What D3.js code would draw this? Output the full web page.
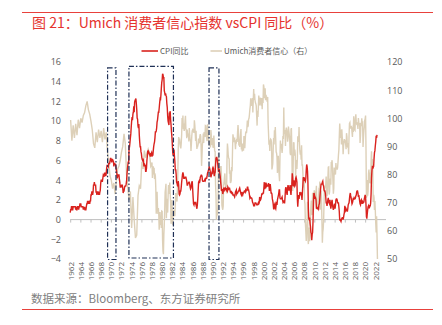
<!DOCTYPE html>
<html><head><meta charset="utf-8">
<script src="https://cdn.jsdelivr.net/npm/d3@7/dist/d3.min.js"></script>
<style>
html,body{margin:0;padding:0;background:#fff;}
svg{display:block;font-family:"Noto Sans CJK SC","Noto Sans",sans-serif;}
</style></head><body>
<svg id="c" width="442" height="325"></svg>
<script>
// ---- data ----
const titleText = "图 21：Umich 消费者信心指数 vsCPI 同比（%）";
const sourceText = "数据来源：Bloomberg、东方证券研究所";
const seriesNames = ["CPI同比", "Umich消费者信心（右）"];
const leftTicks = [-4,-2,0,2,4,6,8,10,12,14,16];
const rightTicks = [50,60,70,80,90,100,110,120];
const yearLabels = d3.range(1962, 2023, 2);
// CPI YoY, monthly, from 1962-01
const cpiStart = 1962;
const cpiYoY = [
0.7,1.0,1.0,1.3,1.3,1.0,1.0,1.3,1.3,1.3,1.3,1.3,
1.3,1.0,1.3,1.0,1.0,1.3,1.3,1.3,1.0,1.3,1.3,1.6,
1.6,1.6,1.3,1.3,1.3,1.3,1.3,1.0,1.3,1.0,1.3,1.0,
1.0,1.0,1.3,1.6,1.6,1.9,1.6,1.9,1.6,1.9,1.6,1.9,
1.9,2.5,2.5,2.8,2.8,2.5,2.8,3.5,3.5,3.8,3.5,3.5,
3.5,2.8,2.8,2.5,2.8,2.8,2.8,2.5,2.8,2.5,2.8,3.0,
3.7,4.0,4.0,3.9,3.9,4.2,4.5,4.4,4.4,4.7,4.7,4.7,
4.4,4.7,5.2,5.5,5.5,5.5,5.4,5.7,5.7,5.7,5.9,6.2,
6.2,6.1,5.8,6.1,6.1,6.0,5.9,5.4,5.7,5.7,5.6,5.6,
5.3,5.0,4.7,4.2,4.4,4.6,4.4,4.6,4.1,3.8,3.3,3.3,
3.3,3.5,3.5,3.5,3.2,2.7,2.9,2.9,3.2,3.4,3.4,3.4,
3.6,3.9,4.6,5.1,5.5,5.9,5.7,7.4,7.4,7.8,8.3,8.7,
9.4,10.0,10.4,10.1,10.7,10.9,11.5,10.9,11.9,12.1,12.2,12.3,
11.8,11.2,10.3,10.2,9.5,9.3,9.7,8.6,7.9,7.4,7.4,6.9,
6.7,6.3,6.1,6.0,6.2,5.9,5.4,5.7,5.5,5.5,4.9,4.9,
5.2,6.0,6.4,7.0,6.7,6.9,6.8,6.6,6.6,6.4,6.7,6.7,
6.8,6.4,6.6,6.5,7.0,7.4,7.7,7.9,8.3,8.9,8.9,9.0,
9.3,9.9,10.1,10.5,10.9,10.9,11.3,11.8,12.2,12.1,12.6,13.3,
13.9,14.2,14.8,14.7,14.4,14.4,13.1,12.9,12.6,12.8,12.6,12.5,
11.8,11.4,10.5,10.0,9.8,9.6,10.8,10.8,11.0,10.1,9.6,8.9,
8.4,7.6,6.8,6.5,6.7,7.1,6.4,5.9,5.0,5.1,4.6,3.8,
3.7,3.5,3.6,3.9,3.5,2.6,2.5,2.6,2.9,2.9,3.3,3.8,
4.2,4.6,4.8,4.6,4.2,4.2,4.2,4.3,4.3,4.3,4.1,3.9,
3.5,3.5,3.7,3.7,3.8,3.8,3.6,3.3,3.1,3.2,3.5,3.8,
3.9,3.1,2.3,1.6,1.5,1.8,1.6,1.6,1.8,1.5,1.3,1.1,
1.5,2.1,3.0,3.8,3.9,3.7,3.9,4.3,4.4,4.5,4.5,4.4,
4.0,3.9,3.9,3.9,3.9,4.0,4.1,4.0,4.2,4.2,4.2,4.4,
4.7,4.8,5.0,5.1,5.4,5.2,5.0,4.7,4.3,4.5,4.7,4.6,
5.2,5.3,5.2,4.7,4.4,4.7,4.8,5.6,6.2,6.3,6.3,6.1,
5.7,5.3,4.9,4.9,5.0,4.7,4.4,3.8,3.4,2.9,3.0,3.1,
2.6,2.8,3.2,3.2,3.0,3.1,3.2,3.1,3.0,3.2,3.0,2.9,
3.3,3.2,3.1,3.2,3.2,3.0,2.8,2.8,2.7,2.8,2.7,2.7,
2.5,2.5,2.5,2.4,2.3,2.5,2.8,2.9,3.0,2.6,2.7,2.7,
2.8,2.9,2.9,3.1,3.2,3.0,2.8,2.6,2.5,2.8,2.6,2.5,
2.7,2.7,2.8,2.9,2.9,2.8,3.0,2.9,3.0,3.0,3.3,3.3,
3.0,3.0,2.8,2.5,2.2,2.3,2.2,2.2,2.2,2.1,1.8,1.7,
1.6,1.4,1.4,1.4,1.7,1.7,1.7,1.6,1.5,1.5,1.5,1.6,
1.7,1.6,1.7,2.3,2.1,2.0,2.1,2.3,2.6,2.6,2.6,2.7,
2.7,3.2,3.8,3.1,3.2,3.7,3.7,3.4,3.5,3.4,3.4,3.4,
3.7,3.5,2.9,3.3,3.6,3.2,2.7,2.7,2.6,2.1,1.9,1.6,
1.1,1.1,1.5,1.6,1.2,1.1,1.5,1.8,1.5,2.0,2.2,2.4,
2.6,3.0,3.0,2.2,2.1,2.1,2.1,2.2,2.3,2.0,1.8,1.9,
1.9,1.7,1.7,2.3,3.1,3.3,3.0,2.7,2.5,3.2,3.5,3.3,
3.0,3.0,3.1,3.5,2.8,2.5,3.2,3.6,4.7,4.3,3.5,3.4,
4.0,3.6,3.4,3.5,4.2,4.3,4.1,3.8,2.1,1.3,2.0,2.5,
2.1,2.4,2.8,2.6,2.7,2.7,2.4,2.0,2.8,3.5,4.3,4.1,
4.3,4.0,4.0,3.9,4.2,5.0,5.6,5.4,4.9,3.7,1.1,0.1,
0.0,0.2,-0.4,-0.7,-1.3,-1.4,-2.1,-1.5,-1.3,-0.2,1.8,2.7,
2.6,2.1,2.3,2.2,2.0,1.1,1.2,1.1,1.1,1.2,1.1,1.5,
1.6,2.1,2.7,3.2,3.6,3.6,3.6,3.8,3.9,3.5,3.4,3.0,
2.9,2.9,2.7,2.3,1.7,1.7,1.4,1.7,2.0,2.2,1.8,1.7,
1.6,2.0,1.5,1.1,1.4,1.8,2.0,1.5,1.2,1.0,1.2,1.5,
1.6,1.1,1.5,2.0,2.1,2.1,2.0,1.7,1.7,1.7,1.3,0.8,
-0.1,0.0,-0.1,-0.2,0.0,0.1,0.2,0.2,0.0,0.2,0.5,0.7,
1.4,1.0,0.9,1.1,1.0,1.0,0.8,1.1,1.5,1.6,1.7,2.1,
2.5,2.7,2.4,2.2,1.9,1.6,1.7,1.9,2.2,2.0,2.2,2.1,
2.1,2.2,2.4,2.5,2.8,2.9,2.9,2.7,2.3,2.5,2.2,1.9,
1.6,1.5,1.9,2.0,1.8,1.6,1.8,1.7,1.7,1.8,2.1,2.3,
2.5,2.3,1.5,0.3,0.1,0.6,1.0,1.3,1.4,1.2,1.2,1.4,
1.4,1.7,2.6,4.2,5.0,5.4,5.4,5.3,5.4,6.2,6.8,7.0,
7.5,7.9,8.5,8.3,8.6
];
// Umich sentiment, quarterly 1962-1977
const umichQStart = 1962;
const umichQuarterly = [
99.4,92.0,97.5,93.0,
98.0,94.0,99.5,96.5,
100.0,98.5,101.0,102.0,
104.5,106.0,103.0,101.5,
99.0,96.0,91.0,89.5,
95.0,91.5,96.0,93.0,
95.5,91.5,96.5,92.5,
95.0,88.0,84.0,79.5,
78.0,75.0,77.0,73.0,
78.0,82.0,83.0,85.0,
88.0,90.0,94.5,91.0,
80.0,75.0,71.0,74.0,
61.0,72.0,64.0,57.5,
58.5,72.5,76.0,75.0,
84.5,82.0,88.5,86.0,
87.5,89.0,87.5,83.0
];
// Umich sentiment, monthly from 1978-01
const umichMStart = 1978;
const umichMonthly = [
83.7,84.3,78.8,81.6,82.9,80.0,82.4,78.4,80.4,79.3,75.0,66.1,
72.1,73.9,68.4,66.0,68.1,65.8,60.4,64.5,66.7,62.1,63.3,61.0,
67.0,66.9,56.5,52.7,51.7,58.7,62.3,67.3,73.7,75.0,76.7,64.5,
71.4,66.9,66.5,72.4,76.3,73.1,74.1,77.2,73.1,70.3,62.5,64.3,
71.0,66.5,62.0,65.5,67.5,65.7,65.4,65.4,69.3,73.4,72.1,71.9,
70.4,74.6,80.8,89.1,93.3,92.2,92.8,90.9,89.9,89.3,91.1,94.2,
100.1,97.4,101.0,96.1,98.1,95.5,96.6,99.1,100.9,96.3,95.7,92.9,
96.0,93.7,93.7,94.6,91.8,96.5,94.0,92.4,92.1,88.4,90.9,93.9,
95.6,95.9,95.1,96.2,94.8,99.3,97.7,94.9,91.9,95.6,91.4,89.1,
90.4,90.2,90.8,92.8,91.1,91.5,93.7,94.4,93.6,89.3,83.1,86.8,
90.8,91.6,94.6,91.2,94.8,94.7,93.4,97.4,97.3,94.1,93.0,91.9,
97.9,95.4,94.3,91.5,90.7,90.6,92.0,89.6,95.8,93.9,90.9,90.5,
93.0,89.5,91.3,93.9,90.6,88.3,88.2,76.4,72.8,63.9,66.0,65.5,
66.8,70.4,87.7,81.8,78.3,82.1,82.9,82.0,83.0,78.3,69.1,68.2,
67.5,68.8,76.0,77.2,79.2,80.4,76.6,76.1,75.6,73.3,85.3,91.0,
89.3,86.6,85.9,85.6,80.3,81.5,77.0,77.3,77.9,82.7,81.2,88.2,
94.3,93.2,91.5,92.6,92.8,91.2,89.0,91.7,91.5,92.7,91.6,95.1,
97.6,95.1,90.3,92.5,89.8,92.7,94.4,96.2,88.9,90.2,88.2,91.0,
89.3,88.5,93.7,92.7,89.4,92.4,94.7,95.3,94.7,96.5,99.2,96.9,
97.4,99.7,100.0,101.4,103.2,104.5,107.1,104.4,106.0,105.6,107.2,102.1,
106.6,110.4,106.5,108.7,106.5,105.6,105.2,104.4,100.9,97.4,102.7,100.5,
103.9,108.1,105.7,104.6,106.8,107.3,106.0,104.5,107.2,103.2,107.2,105.4,
112.0,111.3,107.1,109.2,110.7,106.4,108.3,107.3,106.8,105.8,107.6,98.4,
94.7,90.6,91.5,88.4,92.0,92.6,92.4,91.5,81.8,82.7,83.9,88.8,
93.0,90.7,95.7,93.0,96.9,92.4,88.1,87.6,86.1,80.6,84.2,86.7,
82.4,79.9,77.6,86.0,92.1,89.7,90.9,89.3,87.7,89.6,93.7,92.6,
103.8,94.4,95.8,94.2,90.2,95.6,96.7,95.9,94.2,91.7,92.8,97.1,
95.5,94.1,92.6,87.7,86.9,96.0,96.5,89.1,76.9,74.2,81.6,91.5,
91.2,86.7,88.9,87.4,79.1,84.9,84.7,82.0,85.4,93.6,92.1,91.7,
96.9,91.3,88.4,87.1,88.3,85.3,90.4,83.4,83.4,80.9,76.1,75.5,
78.4,70.8,69.5,62.6,59.8,56.4,61.2,63.0,70.3,57.6,55.3,60.1,
61.2,56.3,57.3,65.1,68.7,70.8,66.0,65.7,73.5,70.6,67.4,72.5,
74.4,73.6,73.6,72.2,73.6,76.0,67.8,68.9,68.2,67.7,71.6,74.5,
74.2,77.5,67.5,69.8,74.3,71.5,63.7,55.8,59.5,60.8,63.7,69.9,
75.0,75.3,76.2,76.4,79.3,73.2,72.3,74.3,78.3,82.6,82.7,72.9,
73.8,77.6,78.6,76.4,84.5,84.1,85.1,82.1,77.5,73.2,75.1,82.5,
81.2,81.6,80.0,84.1,81.9,82.5,81.8,82.5,84.6,86.9,88.8,93.6,
98.1,95.4,93.0,95.9,90.7,96.1,93.1,91.9,87.2,90.0,91.3,92.6,
92.0,91.7,91.0,89.0,94.7,93.5,90.0,89.8,91.2,87.2,93.8,98.2,
98.5,96.3,96.9,97.0,97.1,95.0,93.4,96.8,95.1,100.7,98.5,95.9,
95.7,99.7,101.4,98.8,98.0,98.2,97.9,96.2,100.1,98.6,97.5,98.3,
91.2,93.8,98.4,97.2,100.0,98.2,98.4,89.8,93.2,95.5,96.8,99.3,
99.8,101.0,89.1,71.8,72.3,78.1,72.5,74.1,80.4,81.8,76.9,80.7,
79.0,76.8,84.9,88.3,82.9,85.5,81.2,70.3,72.8,71.7,67.4,70.6,
67.2,62.8,59.4,65.2,58.4,50.0
];
// highlighted periods (years, left-axis units)
const boxStarts = [1969.35, 1973.55, 1989.3];
const boxEnds   = [1971.0, 1982.3, 1991.25];
const boxTops   = [15.4, 15.55, 15.4];
const boxBottoms= [-4.05, -3.9, -4.05];

// ---- build ----
const svg = d3.select("#c");
const red = "#D9221E", beige = "#DDD0B8", grid = "#BFBFBF", txt = "#595959";

const x = d3.scaleLinear().domain([1962, 2024.1]).range([70.2, 386]);
const yL = d3.scaleLinear().domain([-4, 16]).range([259, 62]);
const yR = d3.scaleLinear().domain([50, 120]).range([259, 62]);

const cpi = cpiYoY.map((v, i) => ({t: cpiStart + i / 12, v}));
const um = umichQuarterly.map((v, i) => ({t: umichQStart + (i * 3 + 1) / 12, v}))
  .concat(umichMonthly.map((v, i) => ({t: umichMStart + i / 12, v})));

// header & footer
svg.append("line").attr("x1", 22).attr("x2", 433).attr("y1", 12.5).attr("y2", 12.5)
  .attr("stroke", "#E8413C").attr("stroke-width", 1);
svg.append("text").attr("x", 32).attr("y", 28).attr("fill", "#E5332E")
  .attr("font-size", 14).text(titleText);
svg.append("text").attr("x", 31).attr("y", 303).attr("fill", "#808080")
  .attr("font-size", 11.5).text(sourceText);
svg.append("line").attr("x1", 22).attr("x2", 433).attr("y1", 309.5).attr("y2", 309.5)
  .attr("stroke", "#E8413C").attr("stroke-width", 1);

// legend
const lg = svg.append("g").attr("font-size", 8).attr("fill", txt);
lg.append("line").attr("x1", 141.5).attr("x2", 158).attr("y1", 51).attr("y2", 51).attr("stroke", red).attr("stroke-width", 1.6);
lg.append("text").attr("x", 160).attr("y", 54).text(seriesNames[0]);
lg.append("line").attr("x1", 210.5).attr("x2", 222).attr("y1", 51).attr("y2", 51).attr("stroke", beige).attr("stroke-width", 1.6);
lg.append("text").attr("x", 224).attr("y", 54).text(seriesNames[1]);

// left axis
const ga = svg.append("g").attr("transform", "translate(64,0)")
  .call(d3.axisLeft(yL).tickValues(leftTicks).tickSize(0).tickPadding(3).tickFormat(d3.format("d")));
ga.select(".domain").remove();
ga.selectAll("text").attr("font-size", 9).attr("fill", txt).attr("font-family", "'Open Sans','Noto Sans',sans-serif");

// right axis
const gr = svg.append("g").attr("transform", "translate(386,0)")
  .call(d3.axisRight(yR).tickValues(rightTicks).tickSize(0).tickPadding(1).tickFormat(d3.format("d")));
gr.select(".domain").remove();
gr.selectAll("text").attr("font-size", 9).attr("fill", txt).attr("font-family", "'Open Sans','Noto Sans',sans-serif");

// x axis at zero
const gx = svg.append("g").attr("transform", `translate(0,${yL(0)})`)
  .call(d3.axisBottom(x).tickValues(yearLabels).tickSize(3).tickFormat(""));
gx.select(".domain").attr("d", `M${x(1962)},0H386`).attr("stroke", grid);
gx.selectAll(".tick line").attr("stroke", grid);

// year labels
const gy = svg.append("g").attr("transform", "translate(0,262)")
  .call(d3.axisBottom(x).tickValues(yearLabels).tickSize(0).tickFormat(d3.format("d")));
gy.select(".domain").remove();
gy.selectAll("text").attr("y", 0).attr("x", 0).attr("dy", "0.35em")
  .attr("transform", "rotate(-90)").style("text-anchor", "end")
  .attr("font-size", 8).attr("fill", txt).attr("font-family", "'Open Sans','Noto Sans',sans-serif");

// series
svg.append("path").datum(um).attr("fill", "none").attr("stroke", beige).attr("stroke-width", 1.4)
  .attr("d", d3.line().x(d => x(d.t)).y(d => yR(d.v)));
svg.append("path").datum(cpi).attr("fill", "none").attr("stroke", red).attr("stroke-width", 1.4)
  .attr("d", d3.line().x(d => x(d.t)).y(d => yL(d.v)));

// highlight boxes
boxStarts.forEach((s, i) => {
  svg.append("rect")
    .attr("x", x(s)).attr("y", yL(boxTops[i]))
    .attr("width", x(boxEnds[i]) - x(s)).attr("height", yL(boxBottoms[i]) - yL(boxTops[i]))
    .attr("fill", "none").attr("stroke", "#1F3056").attr("stroke-width", 1.2)
    .attr("stroke-dasharray", "5,2,1.5,2");
});
</script>
</body></html>
